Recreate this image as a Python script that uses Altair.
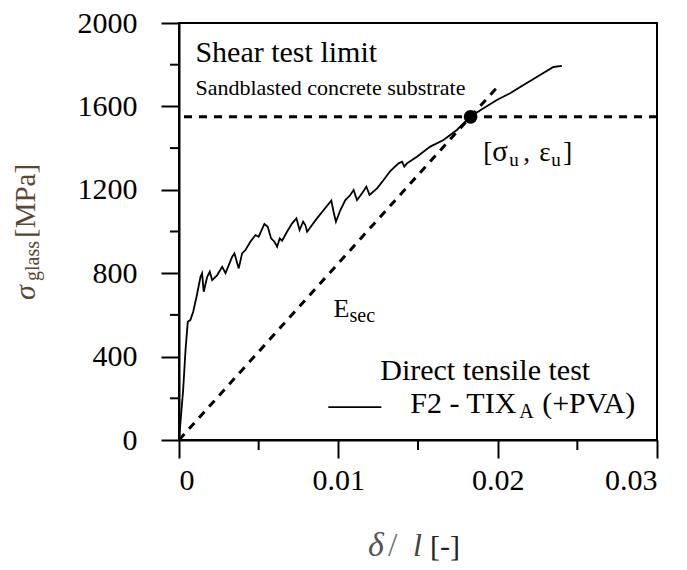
import altair as alt
import pandas as pd

# ---- data ----
strain = [0, 0.00026, 0.00041, 0.00055, 0.00072, 0.00089, 0.0011, 0.00135, 0.00145, 0.00155,
          0.00177, 0.00193, 0.00208, 0.0024, 0.00271, 0.00292, 0.00334, 0.00348, 0.00375, 0.00396,
          0.00417, 0.00448, 0.0048, 0.005, 0.00536, 0.00557, 0.00578, 0.00599, 0.00616, 0.00632,
          0.00647, 0.00678, 0.0071, 0.00737, 0.00757, 0.00779, 0.00793, 0.00804, 0.00835, 0.00866,
          0.00908, 0.00956, 0.0097, 0.00985, 0.01013, 0.01044, 0.01075, 0.01096, 0.01117, 0.01149,
          0.01176, 0.01196, 0.01243, 0.01284, 0.01326, 0.01378, 0.014, 0.01414, 0.01431, 0.01493,
          0.01577, 0.0166, 0.01744, 0.01828, 0.01911, 0.01995, 0.02078, 0.02162, 0.02266, 0.0235,
          0.02403]
stress = [0, 240, 432, 567, 576, 615, 687, 783, 800, 711,
          783, 807, 767, 791, 831, 800, 879, 895, 823, 895,
          911, 951, 983, 975, 1036, 1023, 967, 951, 927, 967,
          956, 999, 1039, 1063, 1007, 1047, 1031, 999, 1031, 1063,
          1103, 1148, 1095, 1047, 1103, 1151, 1175, 1199, 1151, 1183,
          1215, 1175, 1207, 1247, 1290, 1327, 1335, 1311, 1327, 1359,
          1407, 1439, 1487, 1551, 1591, 1631, 1663, 1703, 1751, 1789,
          1794]

x_major = [0, 0.01, 0.02, 0.03]
x_minor = [0.005, 0.015, 0.025]
y_major = [0, 400, 800, 1200, 1600, 2000]
y_minor = [200, 600, 1000, 1400, 1800]

shear_limit = [1550]
ult_strain = [0.0183]
ult_stress = [1550]
secant_strain = [0, 0.0199]
secant_stress = [0, 1686]

FONT = "Liberation Serif"
W, H = 478, 417

xs = alt.Scale(domain=[0, 0.03], nice=False, zero=False)
ys = alt.Scale(domain=[0, 2000], nice=False, zero=False)

XAX = alt.Axis(
    values=x_major, title=None, tickSize=18, tickWidth=2, tickColor="black",
    domainColor="black", domainWidth=2, labelFont=FONT, labelFontSize=30,
    labelColor="black", labelPadding=7, grid=False,
    labelExpr="datum.value == 0 ? '0' : format(datum.value, '.2f')")
YAX = alt.Axis(
    values=y_major, title=None, tickSize=18, tickWidth=2, tickColor="black",
    domainColor="black", domainWidth=2, labelFont=FONT, labelFontSize=30,
    labelColor="black", labelPadding=24, grid=False, format="d")


def X(f):
    return alt.X(f, scale=xs, axis=XAX, title=None)


def Y(f):
    return alt.Y(f, scale=ys, axis=YAX, title=None)


curve_df = pd.DataFrame({"strain": strain, "stress": stress, "i": list(range(len(strain)))})

curve = alt.Chart(curve_df).mark_line(color="black", strokeWidth=1.8).encode(
    x=X("strain:Q"), y=Y("stress:Q"), order="i:Q")

xminor = alt.Chart(pd.DataFrame({"v": x_minor})).mark_rule(color="black", strokeWidth=2).encode(
    x=X("v:Q"), y=alt.value(H), y2=alt.value(H + 10))
yminor = alt.Chart(pd.DataFrame({"v": y_minor})).mark_rule(color="black", strokeWidth=2).encode(
    y=Y("v:Q"), x=alt.value(0), x2=alt.value(-9))

hline = alt.Chart(pd.DataFrame({"y": shear_limit})).mark_rule(
    color="black", strokeWidth=3, strokeDash=[8, 7]).encode(y=Y("y:Q"))

sec_df = pd.DataFrame({"x": [secant_strain[0]], "y": [secant_stress[0]],
                       "x2": [secant_strain[1]], "y2": [secant_stress[1]]})
secant = alt.Chart(sec_df).mark_rule(color="black", strokeWidth=3, strokeDash=[8, 7]).encode(
    x=X("x:Q"), y=Y("y:Q"), x2="x2:Q", y2="y2:Q")

dot = alt.Chart(pd.DataFrame({"x": ult_strain, "y": ult_stress})).mark_point(
    filled=True, color="black", size=190, opacity=1, shape="circle").encode(
    x=X("x:Q"), y=Y("y:Q"))

legend_line = alt.Chart(pd.DataFrame({"x": [0.00937], "x2": [0.0127], "y": [158]})).mark_rule(
    color="black", strokeWidth=1.8).encode(x=X("x:Q"), x2="x2:Q", y=Y("y:Q"))


def dtext(s, x, y, dx=0, dy=0, size=30, style="normal", color="black"):
    return alt.Chart(pd.DataFrame({"x": [x], "y": [y], "t": [s]})).mark_text(
        align="left", baseline="alphabetic", font=FONT, fontSize=size, fontStyle=style,
        color=color, dx=dx, dy=dy).encode(x=X("x:Q"), y=Y("y:Q"), text="t:N")


def ptext(s, px, py, dx=0, dy=0, size=30, style="normal", color="black", angle=0):
    return alt.Chart(pd.DataFrame({"t": [s]})).mark_text(
        align="left", baseline="alphabetic", font=FONT, fontSize=size, fontStyle=style,
        color=color, dx=dx, dy=dy, angle=angle).encode(
        x=alt.value(px), y=alt.value(py), text="t:N")


texts = [
    dtext("Shear test limit", 0.00103, 1813, size=30),
    dtext("Sandblasted concrete substrate", 0.00103, 1655, size=22),
    dtext("[", 0.0191, 1338, size=27),
    dtext("σ", 0.0191, 1338, dx=9, size=29),
    dtext("u", 0.0191, 1338, dx=26, dy=5, size=19),
    dtext(",", 0.0191, 1338, dx=40, size=27),
    dtext("ε", 0.0191, 1338, dx=56, size=27),
    dtext("u", 0.0191, 1338, dx=68, dy=5, size=19),
    dtext("]", 0.0191, 1338, dx=80, size=27),
    dtext("E", 0.0097, 590, size=26),
    dtext("sec", 0.0097, 590, dx=16, dy=5, size=20),
    dtext("Direct tensile test", 0.01263, 288, size=30),
    dtext("F2 - TIX", 0.01451, 129, size=30),
    dtext("A", 0.01451, 129, dx=109, dy=5, size=20),
    dtext("(+PVA)", 0.01451, 129, dx=132, size=30),
    # x-axis title
    ptext("δ", 189, 533, size=34, style="italic", color="#555555"),
    ptext("/", 209, 533, size=34, color="#777777"),
    ptext("l", 234, 533, size=32, style="italic", color="#444444"),
    ptext("[-]", 251, 533, size=30, color="#222222"),
    # y-axis title (rotated)
    ptext("σ", -144, 277, size=30, style="italic", color="#5a4631", angle=270),
    ptext("glass", -144, 277, dx=19, dy=4, size=20, color="#5a4631", angle=270),
    ptext("[MPa]", -144, 277, dx=62, size=29, color="#5a4631", angle=270),
]

chart = alt.layer(curve, xminor, yminor, hline, secant, dot, legend_line, *texts).properties(
    width=W, height=H,
    background="white",
    autosize=alt.AutoSizeParams(type="none"),
    padding={"left": 179, "top": 23, "right": 30, "bottom": 130},
).configure_view(stroke="black", strokeWidth=2)

chart.save("out.html", embed_options={"renderer": "svg", "actions": False})
